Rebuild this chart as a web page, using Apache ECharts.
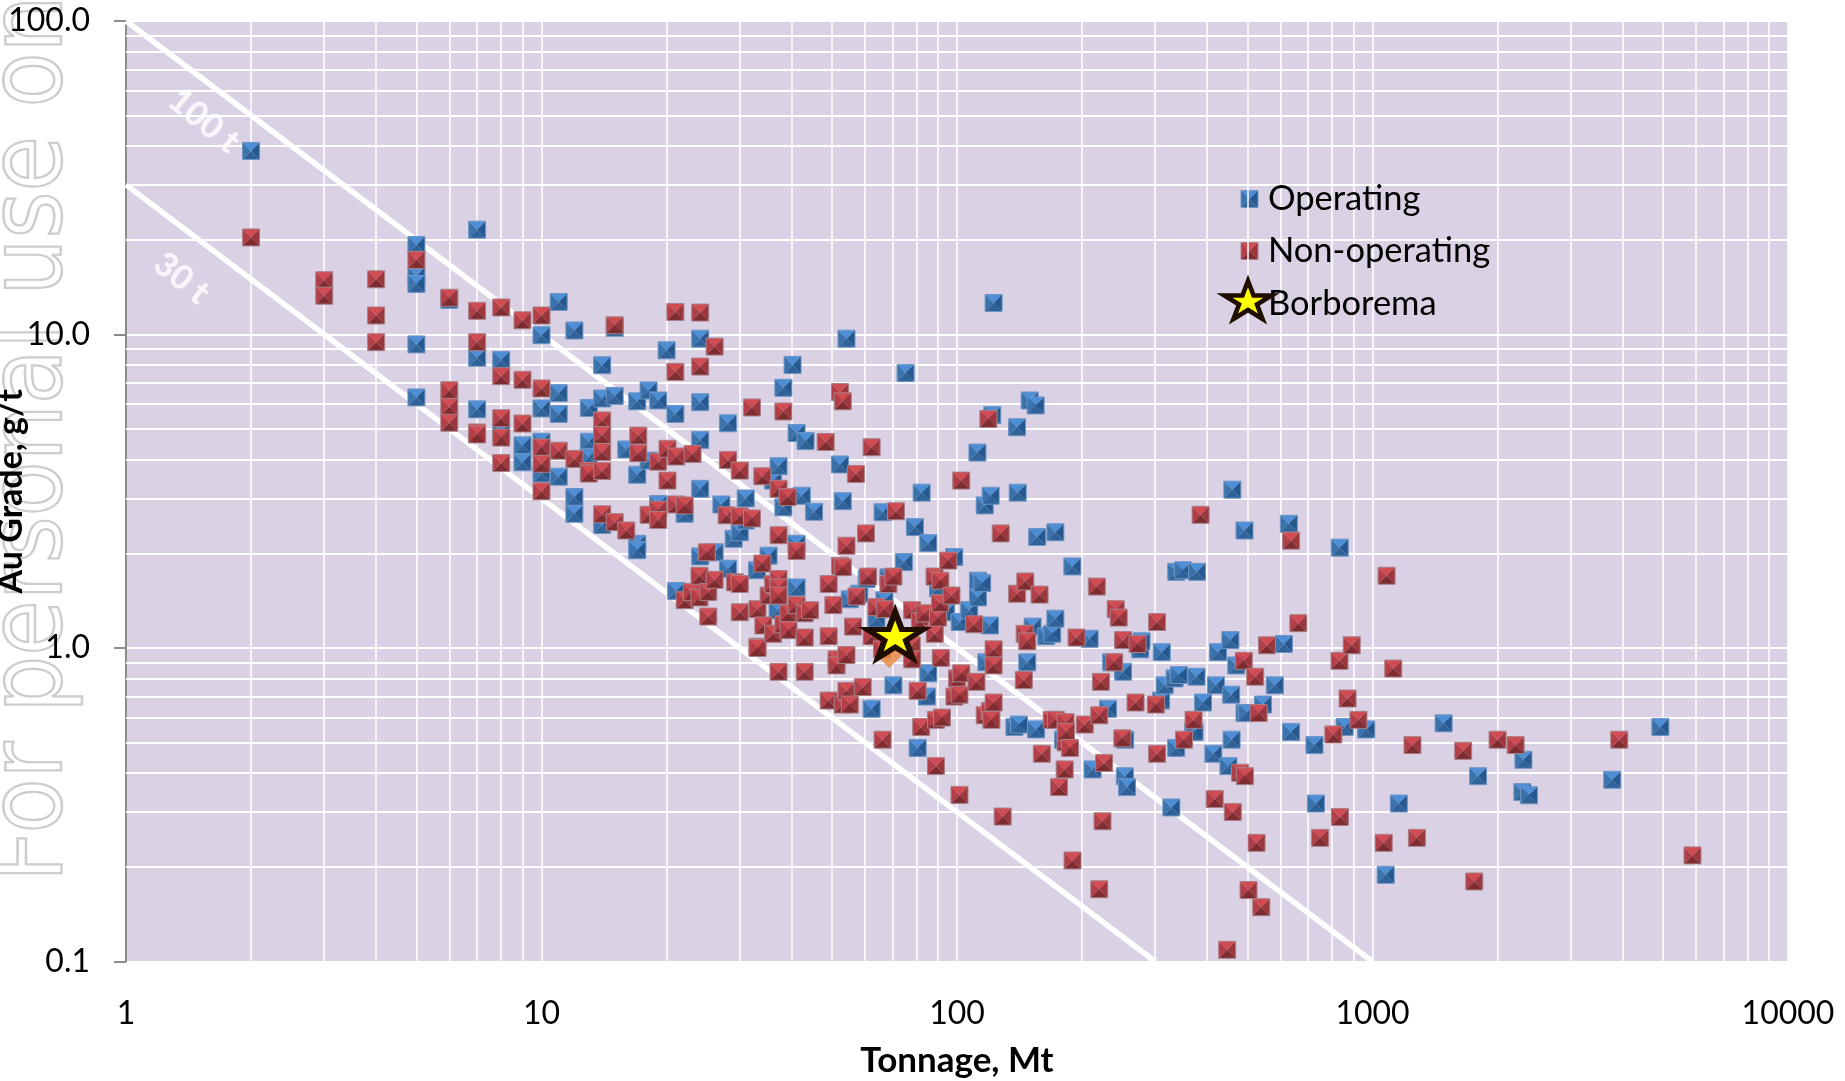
<!DOCTYPE html>
<html>
<head>
<meta charset="utf-8">
<title>Au grade vs tonnage</title>
<script src="https://cdn.jsdelivr.net/npm/echarts@6/dist/echarts.min.js"></script>
<style>
html,body{margin:0;padding:0;background:#fff;overflow:hidden;}
#main{width:1845px;height:1081px;}
</style>
</head>
<body>
<div id="main"></div>
<script>
// tonnage (Mt), grade (g/t)
var operating = [[2,38.5],[5,19.3],[5,15.4],[5,14.5],[5,9.3],[5,6.3],[6,12.9],[7,21.6],[7,8.43],[7,5.77],[8,8.3],[8,4.9],[9,4.43],[9,3.91],[10,9.95],[10,5.81],[10,4.55],[10,3.6],[11,12.7],[11,6.5],[11,5.58],[11,3.52],[12,10.3],[12,3.03],[12,2.68],[13,5.83],[13,4.55],[13,4.07],[14,7.98],[14,6.25],[14,2.47],[15,10.5],[15,6.37],[16,4.3],[17,6.12],[17,3.57],[17,2.15],[17,2.05],[18.1,6.63],[18.1,3.96],[19.1,6.16],[19.1,2.88],[20,8.9],[21,5.58],[21.1,1.52],[22.1,2.68],[24.1,9.7],[24.1,6.08],[24.1,4.61],[24.1,3.22],[24.1,1.96],[26.1,2.02],[27.1,2.87],[28.1,5.21],[28.1,1.79],[29,2.23],[30,2.34],[31,3],[31,2.55],[33,1.77],[35.2,1.97],[36.1,3.42],[37,1.32],[37.2,3.8],[38.2,6.76],[38.2,2.81],[40.2,8],[41.1,4.85],[41.1,2.15],[41.1,1.56],[42.3,3.06],[43.2,4.57],[45.3,2.72],[52.3,3.85],[53.1,2.94],[54.2,9.7],[55.2,1.43],[58.2,1.49],[60.6,1.66],[62.3,0.64],[64,1.24],[66.2,2.71],[66.9,1.42],[68.4,1.68],[70.3,0.76],[74.5,1.88],[75.2,7.53],[79.2,2.43],[80.4,0.48],[82.2,3.13],[84.6,0.7],[85.3,2.16],[85.3,0.83],[90,1.55],[94,1.3],[98.5,1.95],[101.5,1.21],[107,1.32],[112,4.2],[112.3,1.64],[112.3,1.45],[115,1.61],[116.6,2.85],[117.7,0.9],[120,1.18],[120.5,3.06],[121.6,5.54],[122.5,12.6],[137.5,0.56],[139.5,5.06],[140,3.13],[141,0.57],[147.6,0.9],[149.6,6.16],[152,1.17],[154.6,5.94],[155,0.55],[156,2.26],[164,1.09],[169.5,1.11],[172.5,2.34],[172.5,1.24],[180,0.51],[189.5,1.82],[208.5,1.07],[212,0.41],[231,0.64],[235,0.9],[251,0.84],[253.5,0.39],[254,0.51],[256.6,0.36],[276,0.99],[278,1.05],[310,0.68],[311,0.97],[316,0.76],[328,0.31],[334,0.8],[337,1.75],[337,0.48],[342,0.82],[350,1.77],[370,0.54],[373,0.54],[377,0.81],[378,1.75],[391,0.67],[414,0.46],[420,0.76],[425,0.97],[450,0.42],[455,1.06],[457,0.71],[458,0.51],[460,3.2],[470,0.88],[492,2.37],[492,0.62],[499,0.62],[545,0.66],[582,0.76],[612,1.03],[629,2.49],[637,0.54],[725,0.49],[731,0.319],[834,2.09],[857,0.56],[966,0.55],[1076,0.189],[1157,0.319],[1483,0.575],[1795,0.39],[2295,0.347],[2308,0.44],[2380,0.339],[3776,0.38],[4930,0.56]];
var nonOperating = [[2,20.4],[3,14.9],[3,13.3],[4,15],[4,11.5],[4,9.45],[5,17.3],[6,13.1],[6,6.64],[6,5.88],[6,5.23],[7,11.9],[7,9.45],[7,4.87],[7,4.8],[8,12.2],[8,7.36],[8,5.41],[8,4.69],[8,3.89],[9,11.1],[9,7.17],[9,5.2],[10,11.5],[10,6.73],[10,4.36],[10,3.87],[10,3.16],[11,4.26],[12,4.01],[13,3.67],[13,3.6],[14,5.32],[14,4.78],[14,4.22],[14,3.67],[14,2.67],[15,10.7],[15,2.52],[16,2.37],[17.1,4.76],[17.1,4.18],[18.1,2.66],[19.1,3.93],[19.1,2.76],[19.1,2.56],[20.1,4.32],[20.1,3.42],[21,11.8],[21,7.6],[21.1,4.08],[21.1,2.87],[22.1,2.85],[22.1,1.42],[23,1.51],[23.1,4.16],[24,1.7],[24,1.45],[24.1,11.75],[24.1,7.9],[25,2.02],[25.2,1.51],[25.2,1.26],[26.1,9.15],[26.1,1.65],[27.9,2.65],[28.1,3.98],[29.2,1.62],[30,3.68],[30,2.63],[30,1.6],[30,1.3],[32.1,5.85],[32.1,2.59],[33.1,1.33],[33.1,1.01],[33.1,1],[34,3.53],[34,1.86],[34.2,1.18],[35.2,1.47],[36.1,1.6],[36.1,1.11],[37.2,3.22],[37.2,2.29],[37.2,1.66],[37.2,1.56],[37.2,1.47],[37.2,0.84],[38.2,5.68],[38.2,1.19],[39.1,3.03],[39.3,1.29],[39.3,1.14],[41.1,2.04],[41.1,1.37],[43,1.29],[43,1.08],[43,0.84],[44.3,1.32],[48.3,4.54],[49.1,1.6],[49.1,1.09],[49.1,0.68],[50.4,1.37],[51.3,0.92],[51.3,0.88],[52.3,6.55],[52.3,1.83],[53.1,6.12],[53.1,1.81],[53.1,0.66],[54.2,2.12],[54.2,0.95],[54.2,0.73],[55.2,0.66],[56.2,1.17],[57.1,3.59],[57.3,1.46],[59.3,0.75],[60.4,2.32],[61.1,1.69],[62.3,1.09],[62.3,4.37],[64,1.35],[66,0.99],[66.2,0.51],[67,1.33],[68.4,1.6],[70.3,1.69],[71.3,2.73],[77.8,1.02],[78,1.32],[78,0.92],[80.4,0.73],[81.4,1.22],[82,0.56],[83.6,1.29],[88.3,1.69],[88.4,1.11],[89,0.59],[89,0.42],[90,1.25],[91,1.39],[91.2,1.64],[91.4,0.93],[92,0.6],[95.3,1.9],[97,1.47],[98.6,0.7],[100,0.8],[101.4,0.71],[101.4,0.34],[102.4,3.42],[102.4,0.83],[110,1.19],[111.4,0.78],[116.6,0.61],[119,5.38],[120,0.63],[121,0.59],[122.5,0.99],[122.5,0.88],[122.5,0.67],[127.4,2.32],[128.8,0.29],[139.5,1.49],[144.8,0.79],[145.5,1.11],[146,1.63],[147.6,1.05],[158,1.48],[160,0.46],[169,0.59],[173,0.59],[176,0.36],[181.6,0.41],[182.5,0.58],[182.5,0.5],[183,0.54],[187,0.48],[189.7,0.21],[194,1.08],[203,0.57],[217,1.57],[220,0.61],[220,0.17],[222,0.78],[224,0.28],[226,0.43],[239,0.9],[241,1.33],[245,1.25],[250,0.515],[251,1.06],[269,0.67],[272,1.03],[301,0.66],[303,1.21],[303,0.46],[352,0.51],[371,0.59],[385.7,2.66],[417,0.33],[447,0.109],[461,0.3],[480,0.4],[490,0.91],[493,0.39],[503,0.169],[522,0.81],[526,0.239],[532,0.62],[540,0.149],[557,1.02],[637,2.2],[663,1.2],[748,0.248],[805,0.53],[833,0.91],[835,0.289],[871,0.69],[891,1.02],[925,0.59],[1064,0.239],[1081,1.7],[1122,0.86],[1248,0.49],[1279,0.248],[1653,0.47],[1758,0.18],[2000,0.51],[2210,0.49],[3926,0.51],[5890,0.218]];
var borborema = [[71,1.1]];
var borboremaBase = [[68.7,0.95]];
var line100t = [[1,100],[1000,0.1]];
var line30t = [[1,30],[300,0.1]];
var lineLabels = [[1.54,48,'100 t'],[1.36,15.1,'30 t']];
var xMinorTicks = [2,3,4,5,6,7,8,9,20,30,40,50,60,70,80,90,200,300,400,500,600,700,800,900,2000,3000,4000,5000,6000,7000,8000,9000];
var yMinorTicks = [0.2,0.3,0.4,0.5,0.6,0.7,0.8,0.9,2,3,4,5,6,7,8,9,20,30,40,50,60,70,80,90];

var FONT = 'Lato';
var STAR_POINTS = [[0,-100],[22.5,-30.9],[95.1,-30.9],[36.3,11.8],[58.8,80.9],[0,38.2],[-58.8,80.9],[-36.3,11.8],[-95.1,-30.9],[-22.5,-30.9]];
var STAR_PATH = 'path://M' + STAR_POINTS.map(function(p){return p[0]+' '+p[1];}).join('L') + 'Z';
var BLUE = {top:'#4d8ed6',left:'#3a72ac',right:'#24588e',bottom:'#2f6299',edge:'#6f95c4'};
var RED = {top:'#d04c52',left:'#b23f47',right:'#9a363c',bottom:'#7e2c30',edge:'#a88088'};

/**
 * 带斜面的方块: four triangles around the centre, as the bevelled Excel marker
 */
function bevelShapes(cx, cy, p){
	var s = 8.5;
	var c = [cx, cy];
	var tl = [cx-s, cy-s], tr = [cx+s, cy-s], br = [cx+s, cy+s], bl = [cx-s, cy+s];
	function tri(a, b, fill){
		return {type:'polygon', shape:{points:[a, b, c]}, style:{fill:fill}};
	}
	return [
		tri(tl, tr, p.top),
		tri(tl, bl, p.left),
		tri(tr, br, p.right),
		tri(bl, br, p.bottom),
		{type:'rect', shape:{x:cx-s, y:cy-s, width:2*s, height:2*s}, style:{fill:'none', stroke:p.edge, lineWidth:1}}
	];
}

function bevelRender(p){
	return function(params, api){
		var pt = api.coord([api.value(0), api.value(1)]);
		return {type:'group', children:bevelShapes(pt[0], pt[1], p)};
	};
}

function markerSeries(name, data, p, z){
	return {
		name:name,
		type:'custom',
		coordinateSystem:'cartesian2d',
		renderItem:bevelRender(p),
		encode:{x:0, y:1},
		data:data,
		z:z,
		silent:true
	};
}

// 图例里的星
function legendStar(cx, cy, w, h){
	return STAR_POINTS.map(function(p){
		return [cx + p[0]*w/190.2, cy + (p[1]+9.55)*h/180.9];
	});
}

var chart = echarts.init(document.getElementById('main'));

var option = {
	animation:false,
	backgroundColor:'#fff',
	grid:{left:126, right:57, top:21, bottom:119.5, outerBoundsMode:'none', show:true, backgroundColor:'#dad2e4', borderWidth:0},
	xAxis:{
		type:'log', logBase:10, min:1, max:10000,
		name:'Tonnage, Mt', nameLocation:'middle', nameGap:82,
		nameTextStyle:{fontFamily:FONT, fontSize:35, fontWeight:'bold', color:'#000'},
		axisLine:{show:false}, axisTick:{show:false},
		axisLabel:{fontFamily:FONT, fontSize:32, color:'#000', margin:36, showMinLabel:true, showMaxLabel:true, formatter:function(v){return String(v);}},
		splitLine:{show:true, lineStyle:{color:'#fff', width:1.5}},
		minorTick:{show:false}, minorSplitLine:{show:false}
	},
	yAxis:{
		type:'log', logBase:10, min:0.1, max:100,
		name:'Au Grade, g/t', nameLocation:'middle', nameGap:98, nameRotate:90, nameMoveOverlap:false,
		nameTextStyle:{fontFamily:FONT, fontSize:34, fontWeight:'bold', color:'#000'},
		axisLine:{show:true, onZero:false, lineStyle:{color:'#8c8c8c', width:2}},
		axisTick:{show:true, length:12, lineStyle:{color:'#8c8c8c', width:2}},
		axisLabel:{fontFamily:FONT, fontSize:32, color:'#000', margin:36, formatter:function(v){return Number(v).toFixed(1);}},
		splitLine:{show:true, lineStyle:{color:'#fff', width:2}},
		minorTick:{show:false}, minorSplitLine:{show:false}
	},
	legend:{
		orient:'vertical', left:1240, top:176, itemWidth:18, itemHeight:18, itemGap:17.5, selectedMode:false,
		textStyle:{fontFamily:FONT, fontSize:34.5, color:'#000'},
		data:[
			{name:'Operating', icon:'rect', itemStyle:{color:'transparent', borderWidth:0}},
			{name:'Non-operating', icon:'rect', itemStyle:{color:'transparent', borderWidth:0}},
			{name:'Borborema', icon:'rect', itemStyle:{color:'transparent', borderWidth:0}}
		]
	},
	graphic:[
		// watermark
		{type:'text', z:-1, silent:true, x:-16, y:882, rotation:Math.PI/2, scaleY:1.12,
			style:{text:'For personal use only', font:'90px "DejaVu Sans"', fill:'rgba(255,255,255,0)', stroke:'#cdcdcd', lineWidth:2.2, textAlign:'left', textVerticalAlign:'top'}},
		// legend markers
		{type:'group', z:20, silent:true, children:bevelShapes(1249.5, 199, BLUE)},
		{type:'group', z:20, silent:true, children:bevelShapes(1249.5, 251, RED)},
		{type:'polygon', z:20, silent:true,
			shape:{points:legendStar(1248, 300, 47, 38)},
			style:{fill:'#ffff00', stroke:'#1f0e00', lineWidth:4.6, lineJoin:'miter'}}
	],
	series:[
		{
			// 次网格线
			name:'gridlines', type:'line', data:[], z:1, silent:true,
			markLine:{z:1, silent:true, symbol:'none', label:{show:false}, animation:false, precision:4,
				data:xMinorTicks.map(function(v){return {xAxis:v, lineStyle:{color:'#fff', width:1.5, type:'solid'}};})
					.concat(yMinorTicks.map(function(v){return {yAxis:v, lineStyle:{color:'#fff', width:2, type:'solid'}};}))
			}
		},
		{name:'100 t', type:'line', data:line100t, symbol:'none', z:2, silent:true, lineStyle:{color:'#fff', width:5.5}},
		{name:'30 t', type:'line', data:line30t, symbol:'none', z:2, silent:true, lineStyle:{color:'#fff', width:5.5}},
		{
			name:'line labels', type:'scatter', data:lineLabels, symbol:'circle', symbolSize:1, z:3, silent:true,
			itemStyle:{color:'rgba(255,255,255,0)'},
			label:{show:true, position:'inside', rotate:-39, color:'#fff', fontFamily:FONT, fontWeight:900, fontSize:34, formatter:function(p){return p.value[2];}}
		},
		markerSeries('Operating', operating, BLUE, 4),
		markerSeries('Non-operating', nonOperating, RED, 5),
		{name:'Borborema', type:'scatter', data:borboremaBase, symbol:'diamond', symbolSize:26, z:6, silent:true, itemStyle:{color:'#e8873a'}},
		{
			name:'Borborema', type:'scatter', data:borborema, z:7, silent:true,
			symbol:STAR_PATH, symbolSize:[56,46], symbolKeepAspect:false,
			itemStyle:{color:'#ffff00', borderColor:'#1f0e00', borderWidth:5.5, borderJoin:'miter', opacity:1}
		}
	]
};

chart.setOption(option);
</script>
</body>
</html>
